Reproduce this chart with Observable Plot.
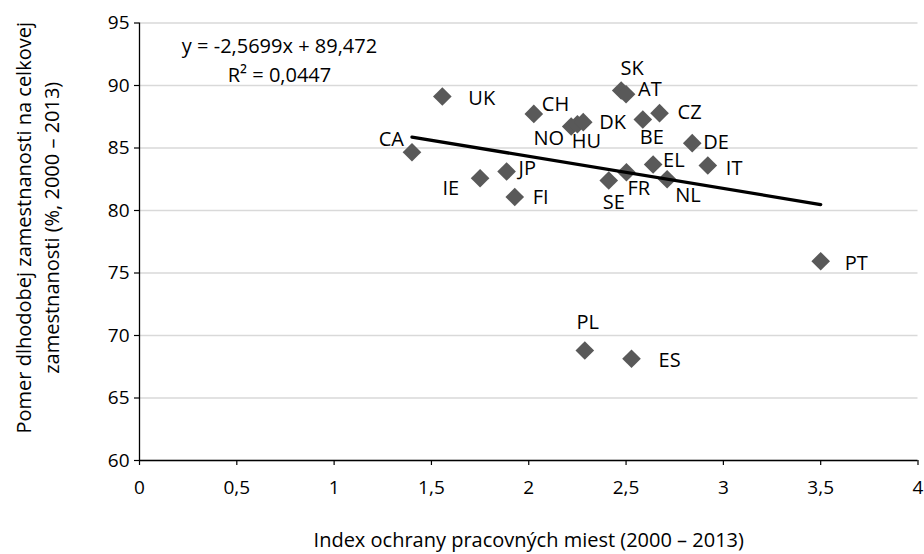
<!DOCTYPE html>
<html>
<head>
<meta charset="utf-8">
<script src="https://cdn.jsdelivr.net/npm/d3@7"></script>
<script src="https://cdn.jsdelivr.net/npm/@observablehq/plot@0.6"></script>
<style>
  body { margin: 0; background: #fff; }
  #chart { width: 924px; height: 554px; }
  #chart svg { overflow: visible; }
</style>
</head>
<body>
<div id="chart"></div>
<script>
// Employment protection index vs. share of long-term employment, 2000–2013
const countries = ["CA", "UK", "IE", "JP", "FI", "CH", "NO", "HU", "DK", "SK", "AT",
                   "BE", "CZ", "DE", "EL", "IT", "FR", "SE", "NL", "PL", "ES", "PT"];
const eplIndex = [1.40, 1.556, 1.75, 1.886, 1.928, 2.026, 2.218, 2.25, 2.28, 2.475, 2.50,
                  2.586, 2.672, 2.84, 2.639, 2.92, 2.502, 2.411, 2.711, 2.288, 2.528, 3.50];
const longTermShare = [84.66, 89.12, 82.58, 83.12, 81.08, 87.73, 86.72, 86.90, 87.07, 89.60, 89.30,
                       87.28, 87.79, 85.39, 83.68, 83.60, 83.06, 82.40, 82.50, 68.80, 68.14, 75.94];

const xTicks = [0, 0.5, 1, 1.5, 2, 2.5, 3, 3.5, 4];
const yTicks = [60, 65, 70, 75, 80, 85, 90, 95];

// Linear trend fitted to the points
const trendSlope = -2.5699;
const trendIntercept = 89.472;
const trendR2 = 0.0447;

const xTitle = "Index ochrany pracovných miest (2000 – 2013)";
const yTitle = "Pomer dlhodobej zamestnanosti na celkovej\nzamestnanosti (%, 2000 – 2013)";

// Where each country label sits relative to its marker: [dx, dy, textAnchor]
const labelPlacement = {
  CA: [-8, -13, "end"],  UK: [26, 2, "start"],   IE: [-21, 10, "end"],
  JP: [12, -3, "start"], FI: [18, 1, "start"],   CH: [8, -9, "start"],
  NO: [-7, 12, "end"],   HU: [9, 17, "middle"],  DK: [16, 0, "start"],
  SK: [11, -22, "middle"], AT: [12, -5, "start"], BE: [9, 18, "middle"],
  CZ: [18, -1, "start"], DE: [11, -1, "start"],  EL: [10, -4, "start"],
  IT: [18, 3, "start"],  FR: [1, 16, "start"],   SE: [5, 22, "middle"],
  NL: [8, 16, "start"],  PL: [3, -28, "middle"], ES: [27, 2, "start"],
  PT: [24, 2, "start"]
};

const points = countries.map((c, i) => ({country: c, x: eplIndex[i], y: longTermShare[i]}));
const [xMin, xMax] = d3.extent(eplIndex);
const trend = [xMin, xMax].map(x => ({x, y: trendSlope * x + trendIntercept}));

const decimalComma = d => String(d).replace(".", ",");
const equation = `y = ${decimalComma(trendSlope)}x + ${decimalComma(trendIntercept)}\nR² = ${decimalComma(trendR2)}`;

const fontSize = 20;

const labelMarks = points.map(p => {
  const [dx, dy, anchor] = labelPlacement[p.country];
  return Plot.text([p], {x: "x", y: "y", text: "country", dx, dy, textAnchor: anchor,
                         fill: "#000", fontSize});
});

const chart = Plot.plot({
  width: 924,
  height: 554,
  marginLeft: 139,
  marginRight: 6.5,
  marginTop: 22.5,
  marginBottom: 94,
  style: {fontFamily: "'Open Sans', sans-serif", fontSize: `${fontSize}px`, color: "#000", background: "#fff"},
  x: {domain: [0, 4]},
  y: {domain: [60, 95]},
  marks: [
    Plot.gridY(yTicks, {stroke: "#d9d9d9", strokeOpacity: 1, strokeWidth: 1.3}),
    Plot.axisY(yTicks, {tickSize: 5, tickPadding: 5, stroke: "#000", strokeWidth: 1.2,
                        fontSize: 19, label: null}),
    Plot.axisX(xTicks, {tickSize: 5, tickPadding: 15, stroke: "#000", strokeWidth: 1.2,
                        fontSize: 19, tickFormat: decimalComma, label: null}),
    Plot.ruleX([0], {stroke: "#000", strokeWidth: 1.3}),
    Plot.ruleY([60], {stroke: "#000", strokeWidth: 1.3}),
    Plot.dot(points, {x: "x", y: "y", symbol: "diamond2", r: 8.4, fill: "#595959", stroke: "none"}),
    Plot.line(trend, {x: "x", y: "y", stroke: "#000", strokeWidth: 3.3}),
    ...labelMarks,
    Plot.text([equation], {frameAnchor: "top-left", dx: 140, dy: 35, textAnchor: "middle",
                           lineAnchor: "middle", lineHeight: 1.45, fontSize, fill: "#000"}),
    Plot.text([xTitle], {frameAnchor: "bottom", dy: 80, lineAnchor: "middle", fontSize, fill: "#000"}),
    Plot.text([yTitle], {frameAnchor: "left", dx: -103, dy: -14, rotate: -90, textAnchor: "middle",
                         lineAnchor: "middle", lineHeight: 1.4, fontSize, fill: "#000"})
  ]
});

document.getElementById("chart").append(chart);
</script>
</body>
</html>
